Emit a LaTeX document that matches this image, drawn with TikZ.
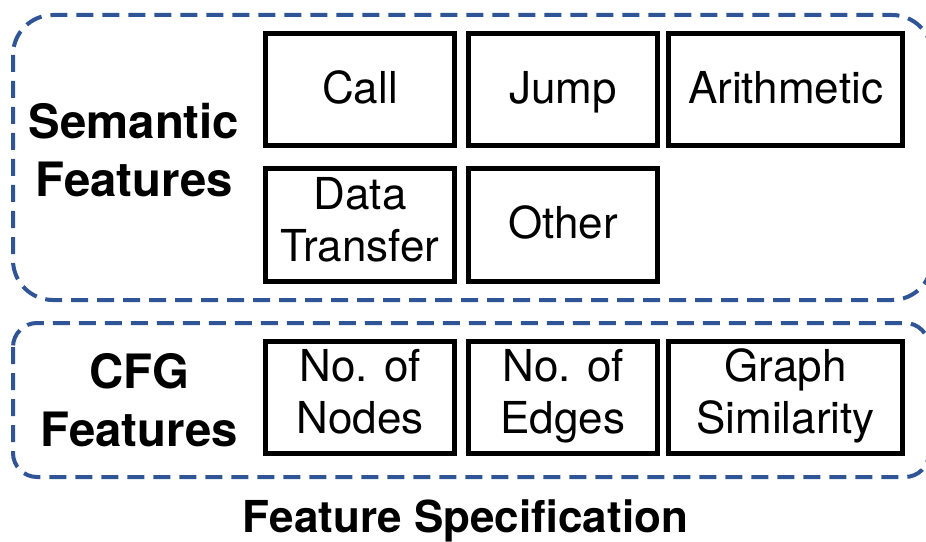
\documentclass[tikz,border=0pt]{standalone}
\usepackage{fontspec}
\setmainfont{TeX Gyre Heros}
\usetikzlibrary{positioning}
\definecolor{groupblue}{HTML}{2F5597}
\newcommand{\boxstrut}{\rule[-9pt]{0pt}{38pt}}
\tikzset{
  featbox/.style={draw, line width=3.75pt, inner sep=0pt, align=center,
                  minimum height=84pt, font=\fontsize{33}{39}\selectfont,
                  execute at begin node=\boxstrut, execute at end node=\boxstrut},
  narrowbox/.style={featbox, minimum width=141.75pt},
  widebox/.style={featbox, minimum width=175.5pt},
  grouplabel/.style={align=center, font=\fontsize{35.5}{43.5}\selectfont\bfseries},
  groupframe/.style={draw=groupblue, line width=3pt,
                     dash pattern=on 12.75pt off 6.75pt},
}

\begin{document}
\begin{tikzpicture}[x=0.75pt,y=-0.75pt]
\useasboundingbox (0,0) rectangle (926,542);
% the two dashed groups
\draw[groupframe, rounded corners=30pt] (13,15) rectangle (932,300);
\draw[groupframe, rounded corners=18pt] (13,323) rectangle (929,477);
% semantic features
\node[narrowbox] (call)     at (360,90)  {Call};
\node[narrowbox] (jump)     at (563,90)  {Jump};
\node[widebox]   (arith)    at (785.5,90) {Arithmetic};
\node[narrowbox] (transfer) at (360,225) {Data\\Transfer};
\node[narrowbox] (other)    at (563,225) {Other};
% CFG features
\node[narrowbox] (nodes) at (360,397.5)   {No. of\\Nodes};
\node[narrowbox] (edges) at (563,397.5)   {No. of\\Edges};
\node[widebox]   (simil) at (785.5,397.5) {Graph\\Similarity};
% group labels (base = last line)
\node[grouplabel, anchor=base] (semantic) at (134,196) {Semantic\\Features};
\node[grouplabel, anchor=base] (cfg)      at (139,446) {CFG\\Features};
\node[font=\fontsize{33}{40}\selectfont\bfseries, anchor=base] (title)
     at (465.5,532) {Feature Specification};
\end{tikzpicture}
\end{document}
